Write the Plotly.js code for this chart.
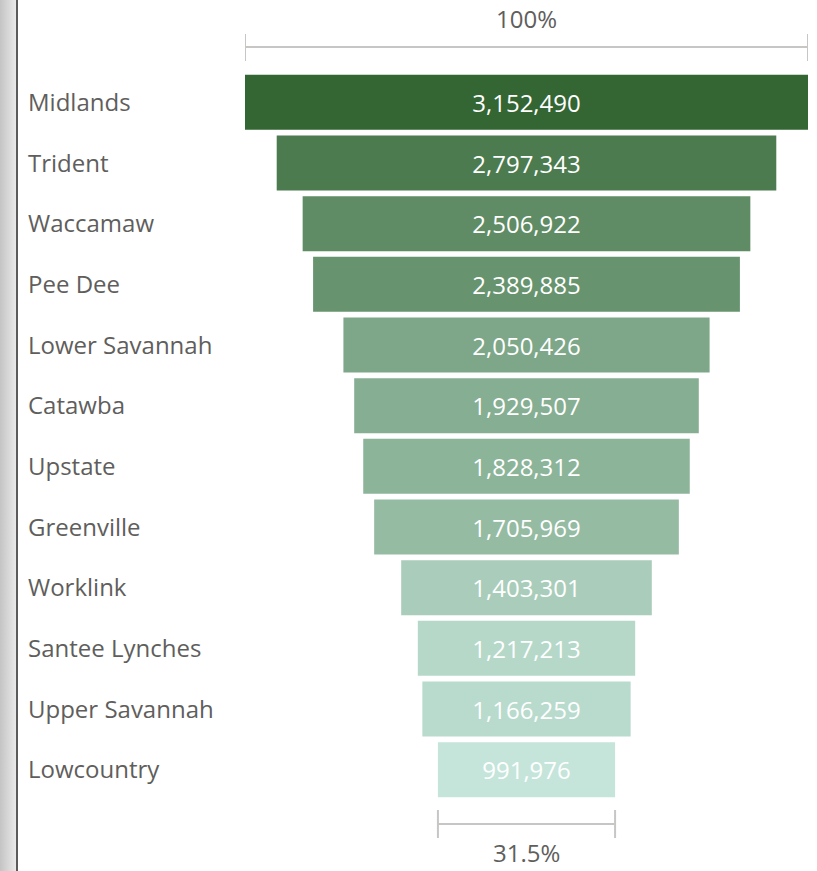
<!DOCTYPE html>
<html>
<head>
<meta charset="utf-8">
<script src="https://cdn.plot.ly/plotly-3.0.1.min.js"></script>
<style>
  html, body { margin: 0; padding: 0; background: #ffffff; }
  #wrap { position: relative; width: 817px; height: 871px; overflow: hidden; }
  #chart { position: absolute; left: 0; top: 0; width: 817px; height: 871px; }
  #frame {
    position: absolute; left: 0; top: 0; width: 16px; height: 871px;
    background: linear-gradient(to right, #c4c4c4, #e9e9e9);
    border-right: 2px solid #5b5b5b; z-index: 5;
  }
</style>
</head>
<body>
<div id="wrap">
  <div id="frame"></div>
  <div id="chart"></div>
</div>
<script>
// Workforce regions and their totals
const regions = [
  "Midlands", "Trident", "Waccamaw", "Pee Dee", "Lower Savannah", "Catawba",
  "Upstate", "Greenville", "Worklink", "Santee Lynches", "Upper Savannah", "Lowcountry"
];
const totals = [
  3152490, 2797343, 2506922, 2389885, 2050426, 1929507,
  1828312, 1705969, 1403301, 1217213, 1166259, 991976
];

// Bar shade runs from light mint (smallest) to dark green (largest)
const lightRGB = [197, 229, 218];
const darkRGB = [51, 102, 51];
const vMax = Math.max(...totals), vMin = Math.min(...totals);
const barColors = totals.map(v => {
  const t = (v - vMin) / (vMax - vMin);
  const c = lightRGB.map((l, i) => Math.round(l + (darkRGB[i] - l) * t));
  return `rgb(${c[0]},${c[1]},${c[2]})`;
});

const FONT = '"Segoe UI", "Open Sans", sans-serif';
const labelGray = '#605E5C';
const bracketGray = '#C8C6C4';

const first = totals[0], last = totals[totals.length - 1];
const lastPct = (100 * last / first).toFixed(1) + '%';

const trace = {
  type: 'funnel',
  y: regions,
  x: totals,
  marker: { color: barColors, line: { width: 0 } },
  connector: { visible: false },
  textinfo: 'value',
  texttemplate: '%{x:,}',
  textposition: 'inside',
  insidetextanchor: 'middle',
  constraintext: 'none',
  textfont: { family: FONT, size: 24, color: '#ffffff' },
  hoverinfo: 'skip'
};

// Region names, left aligned along the left side
const nameNotes = regions.map(r => ({
  xref: 'paper', yref: 'y', x: -0.3895, y: r, yshift: 1,
  xanchor: 'left', yanchor: 'middle', showarrow: false,
  text: r, font: { family: FONT, size: 24, color: labelGray }
}));

// Percentage brackets above the first bar and below the last bar
function bracket(v, yLine, yLo, yHi) {
  const l = { color: bracketGray, width: 2 };
  return [
    { type: 'line', xref: 'x', yref: 'paper', x0: -v / 2, x1: v / 2, y0: yLine, y1: yLine, line: l },
    { type: 'line', xref: 'x', yref: 'paper', x0: -v / 2, x1: -v / 2, y0: yLo, y1: yHi, line: l },
    { type: 'line', xref: 'x', yref: 'paper', x0: v / 2, x1: v / 2, y0: yLo, y1: yHi, line: l }
  ];
}
const shapes = [
  ...bracket(first, 1.0343, 1.0151, 1.0522),
  ...bracket(last, -0.033, -0.0522, -0.0137)
];

const pctNotes = [
  { xref: 'x', yref: 'paper', x: 0, y: 1.074, text: '100%', showarrow: false,
    xanchor: 'center', yanchor: 'middle', font: { family: FONT, size: 24, color: labelGray } },
  { xref: 'x', yref: 'paper', x: 0, y: -0.0955, text: lastPct, showarrow: false, borderpad: 0,
    xanchor: 'center', yanchor: 'bottom', font: { family: FONT, size: 24, color: labelGray } }
];

const layout = {
  width: 817, height: 871,
  margin: { l: 245, r: 9, t: 72, b: 71, pad: 0 },
  paper_bgcolor: '#ffffff', plot_bgcolor: '#ffffff',
  showlegend: false,
  funnelgap: 0.093,
  xaxis: { range: [-first / 2, first / 2], visible: false, fixedrange: true },
  yaxis: { showticklabels: false, showgrid: false, zeroline: false, showline: false,
           ticks: '', fixedrange: true },
  shapes: shapes,
  annotations: [...nameNotes, ...pctNotes],
  font: { family: FONT }
};

Plotly.newPlot('chart', [trace], layout, { displayModeBar: false, staticPlot: true });
</script>
</body>
</html>
